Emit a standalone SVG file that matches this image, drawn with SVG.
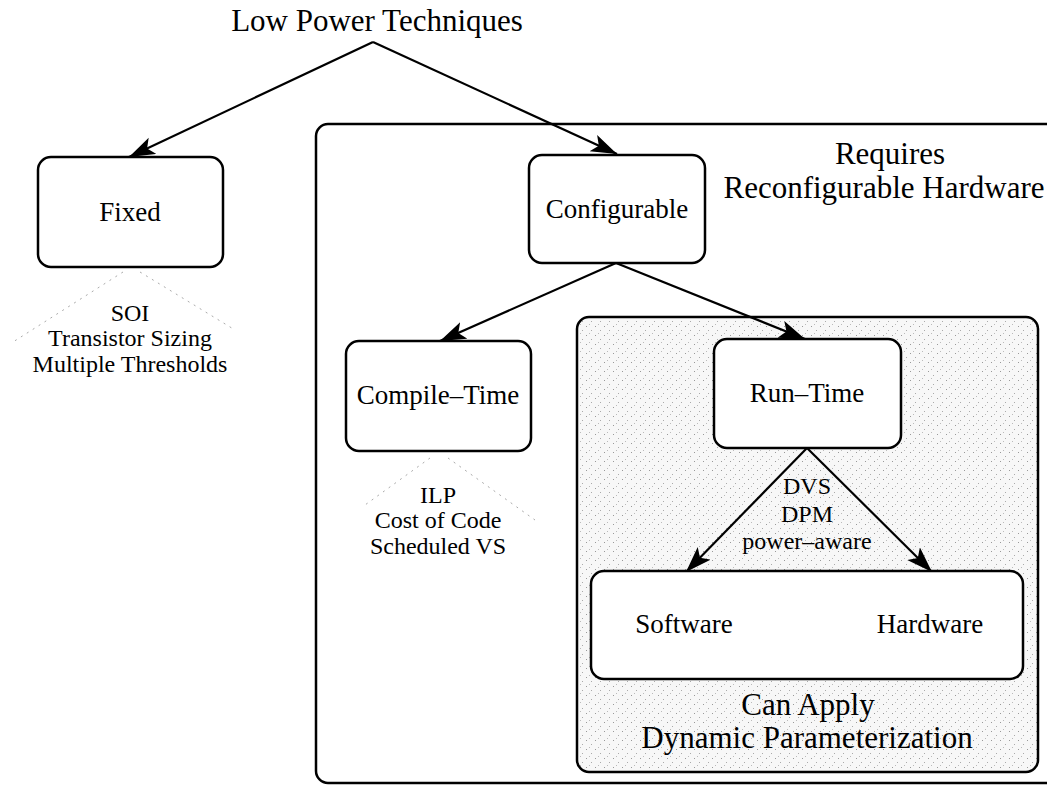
<svg xmlns="http://www.w3.org/2000/svg" width="1047" height="786" viewBox="0 0 1047 786">
<defs>
<marker id="arr" markerUnits="userSpaceOnUse" markerWidth="28" markerHeight="20" refX="26" refY="9" orient="auto">
<path d="M0,0 L26,9 L0,18 L6,9 Z" fill="#000"/>
</marker>
<pattern id="stip" width="9" height="9" patternUnits="userSpaceOnUse">
<rect width="9" height="9" fill="#f7f7f7"/>
<rect x="1" y="2" width="1" height="1" fill="#999"/>
<rect x="6" y="6" width="1" height="1" fill="#aaa"/>
<rect x="4" y="0" width="1" height="1" fill="#bbb"/>
</pattern>
</defs>
<style>
text{font-family:"Liberation Serif","Times New Roman",serif;fill:#000;text-anchor:middle}
.big{font-size:31px}
.node{font-size:27px}
.sub{font-size:24px}
.box{fill:#fff;stroke:#000;stroke-width:2.5}
.edge{stroke:#000;stroke-width:2.2;fill:none;marker-end:url(#arr)}
.faint{stroke:#aaa;stroke-width:1;fill:none;stroke-dasharray:2 5}
</style>
<rect width="1047" height="786" fill="#fff"/>
<g id="title"><text class="big" x="377" y="31">Low Power Techniques</text></g>
<g id="reconfig-region">
<rect x="316" y="124" width="760" height="659" rx="12" fill="none" stroke="#000" stroke-width="2.5"/>
<text class="big" x="890" y="164">Requires</text>
<text class="big" x="884" y="198">Reconfigurable Hardware</text>
</g>
<g id="dynamic-region">
<rect x="577" y="317" width="461" height="455" rx="12" fill="url(#stip)" stroke="#000" stroke-width="2.5"/>
<text class="big" x="808" y="715">Can Apply</text>
<text class="big" x="807" y="748">Dynamic Parameterization</text>
</g>
<g id="connectors">
<path class="edge" d="M373,42 L129,157"/>
<path class="edge" d="M373,42 L617,154"/>
<path class="edge" d="M616,263 L440,341"/>
<path class="edge" d="M616,263 L805,339"/>
<path class="edge" d="M807,448 L686,572"/>
<path class="edge" d="M807,448 L932,572"/>
<path class="faint" d="M123,272 L13,342 M140,272 L235,330"/>
<path class="faint" d="M430,458 L365,505 M448,458 L535,520"/>
</g>
<g id="fixed">
<rect class="box" x="38" y="157" width="185" height="110" rx="13"/>
<text class="node" x="130" y="221">Fixed</text>
</g>
<g id="fixed-list">
<text class="sub" x="130" y="321">SOI</text>
<text class="sub" x="130" y="346">Transistor Sizing</text>
<text class="sub" x="130" y="372">Multiple Thresholds</text>
</g>
<g id="configurable">
<rect class="box" x="529" y="155" width="176" height="108" rx="13"/>
<text class="node" x="617" y="218">Configurable</text>
</g>
<g id="compile-time">
<rect class="box" x="346" y="341" width="185" height="110" rx="13"/>
<text class="node" x="438" y="404">Compile–Time</text>
</g>
<g id="compile-list">
<text class="sub" x="438" y="503">ILP</text>
<text class="sub" x="438" y="528">Cost of Code</text>
<text class="sub" x="438" y="554">Scheduled VS</text>
</g>
<g id="run-time">
<rect class="box" x="714" y="339" width="187" height="109" rx="13"/>
<text class="node" x="807" y="402">Run–Time</text>
</g>
<g id="run-list">
<text class="sub" x="807" y="494">DVS</text>
<text class="sub" x="807" y="522">DPM</text>
<text class="sub" x="807" y="549">power–aware</text>
</g>
<g id="sw-hw">
<rect class="box" x="591" y="571" width="432" height="108" rx="13"/>
<text class="node" x="684" y="633">Software</text>
<text class="node" x="930" y="633">Hardware</text>
</g>
</svg>
